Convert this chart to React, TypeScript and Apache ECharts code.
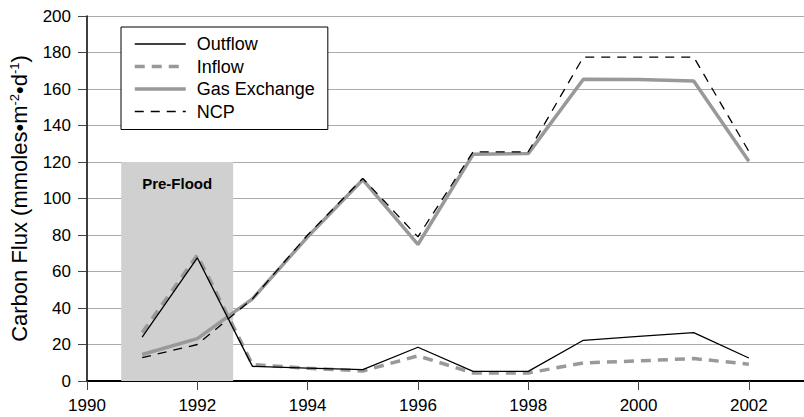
import React, { useEffect, useRef } from "react";
import * as echarts from "echarts";

const years = [1991, 1992, 1993, 1994, 1995, 1996, 1997, 1998, 1999, 2000, 2001, 2002];
const outflow = [24, 67.5, 8, 7.1, 6.2, 18.5, 5.3, 5.3, 22.3, 24.4, 26.5, 12.6];
const inflow = [26.5, 69, 9, 7, 5.5, 13.8, 4.4, 4.4, 9.9, 11, 12.3, 9.2];
const gasExchange = [14.5, 23.2, 45, 79, 110.3, 74.8, 124.2, 124.6, 165.3, 165.2, 164.4, 120.4];
const ncp = [12.8, 20, 45, 80, 111, 79, 125.6, 125.6, 177.5, 177.5, 177.5, 125.8];
const preFloodRange = [1990.62, 1992.65];
const preFloodTop = 120;
const legendNames = ["Outflow", "Inflow", "Gas Exchange", "NCP"];

const FONT = "'Liberation Sans', Arial, Helvetica, sans-serif";

const pairs = (vals: number[]) => years.map((y, i) => [y, vals[i]]);

export default function App() {
  const ref = useRef<HTMLDivElement>(null);
  useEffect(() => {
    if (!ref.current) return;
    const chart = echarts.init(ref.current, undefined, { renderer: "svg" });
    chart.setOption({
      animation: false,
      backgroundColor: "#ffffff",
      textStyle: { fontFamily: FONT },
      grid: { left: 87, top: 16, width: 720.7, height: 365, containLabel: false },
      legend: {
        data: legendNames,
        orient: "vertical",
        left: 121,
        top: 27,
        padding: [8, 13, 9, 12],
        itemWidth: 51,
        itemHeight: 14,
        itemGap: 4.5,
        backgroundColor: "#ffffff",
        borderColor: "#000000",
        borderWidth: 1,
        borderRadius: 0,
        selectedMode: false,
        itemStyle: { opacity: 0, borderWidth: 0 },
        lineStyle: { width: "inherit", opacity: 1 },
        textStyle: {
          fontFamily: FONT,
          fontSize: 18,
          color: "#000000",
          padding: [0, 0, 0, 6],
        },
      },
      xAxis: {
        type: "value",
        min: 1990,
        max: 2003,
        interval: 2,
        axisLine: { show: true, lineStyle: { color: "#000000", width: 2 } },
        axisTick: { show: true, length: 9, lineStyle: { color: "#444444", width: 1 } },
        axisLabel: {
          showMaxLabel: false,
          margin: 16,
          fontFamily: FONT,
          fontSize: 17,
          color: "#000000",
          formatter: (v: number) => String(v),
        },
        splitLine: { show: false },
      },
      yAxis: {
        type: "value",
        min: 0,
        max: 200,
        interval: 20,
        name: "Carbon Flux (mmoles•m{sup|-2}•d{sup|-1})",
        nameLocation: "middle",
        nameGap: 57,
        nameTextStyle: {
          fontFamily: FONT,
          fontSize: 22,
          color: "#000000",
          rich: {
            sup: { fontFamily: FONT, fontSize: 13, verticalAlign: "top", color: "#000000" },
          },
        },
        axisLine: { show: true, lineStyle: { color: "#000000", width: 1.5 } },
        axisTick: { show: true, length: 9, lineStyle: { color: "#444444", width: 1 } },
        axisLabel: { margin: 16, fontFamily: FONT, fontSize: 17, color: "#000000" },
        splitLine: { show: true, lineStyle: { color: "#aaaaaa", width: 1 } },
      },
      series: [
        {
          name: "preflood",
          type: "line",
          data: [],
          z: 1,
          silent: true,
          markArea: {
            silent: true,
            itemStyle: { color: "#d0d0d0" },
            label: {
              show: true,
              position: "insideTop",
              distance: 14,
              fontFamily: FONT,
              fontSize: 15,
              fontWeight: "bold",
              color: "#000000",
            },
            data: [
              [
                { name: "Pre-Flood", coord: [preFloodRange[0], 0] },
                { coord: [preFloodRange[1], preFloodTop] },
              ],
            ],
          },
        },
        {
          name: "Inflow",
          type: "line",
          data: pairs(inflow),
          symbol: "none",
          z: 3,
          lineStyle: { color: "#999999", width: 3.5, type: [10, 7] },
          itemStyle: { color: "#999999" },
        },
        {
          name: "Gas Exchange",
          type: "line",
          data: pairs(gasExchange),
          symbol: "none",
          z: 3,
          lineStyle: { color: "#999999", width: 3.5, type: "solid" },
          itemStyle: { color: "#999999" },
        },
        {
          name: "Outflow",
          type: "line",
          data: pairs(outflow),
          symbol: "none",
          z: 4,
          lineStyle: { color: "#000000", width: 1.3, type: "solid" },
          itemStyle: { color: "#000000" },
        },
        {
          name: "NCP",
          type: "line",
          data: pairs(ncp),
          symbol: "none",
          z: 4,
          lineStyle: { color: "#000000", width: 1.3, type: [9, 7] },
          itemStyle: { color: "#000000" },
        },
      ],
    });
    return () => chart.dispose();
  }, []);
  return (
    <div
      ref={ref}
      style={{ position: "fixed", left: 0, top: 0, width: 804, height: 417, background: "#fff" }}
    />
  );
}
